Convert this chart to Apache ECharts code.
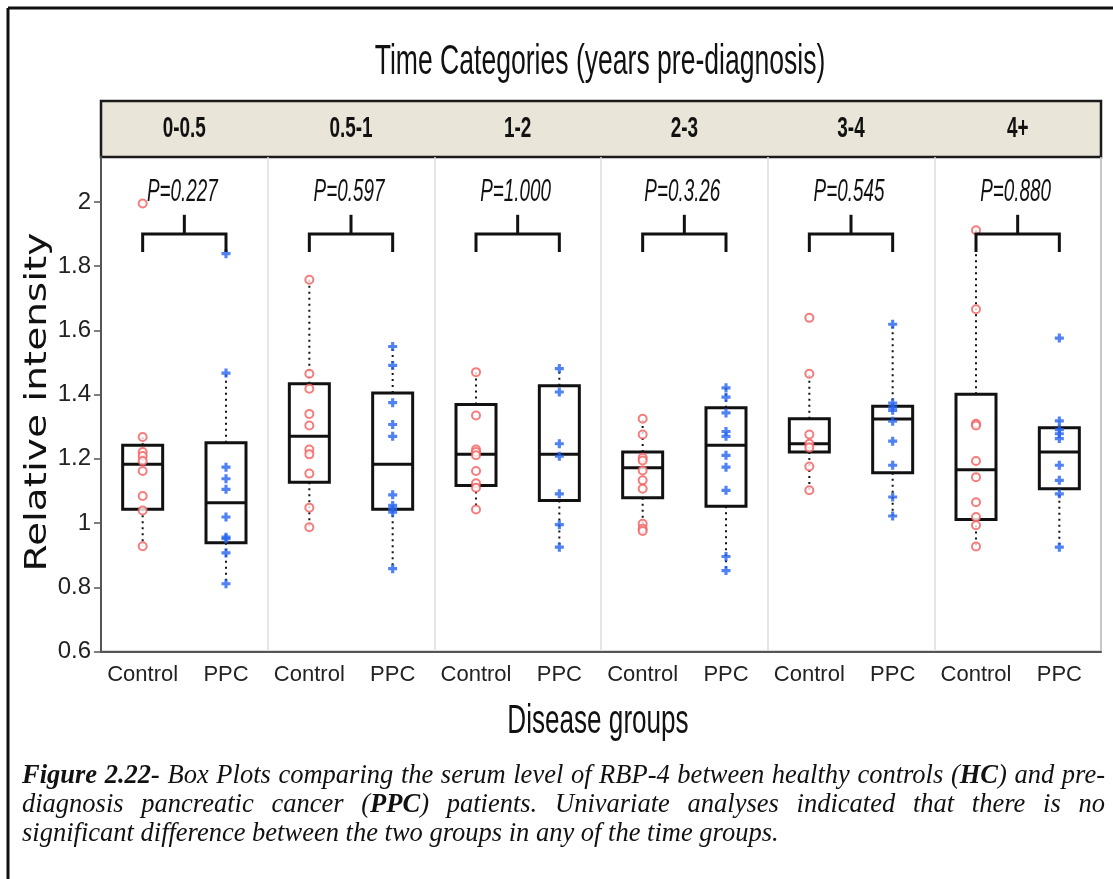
<!DOCTYPE html>
<html>
<head>
<meta charset="utf-8">
<script src="https://cdn.jsdelivr.net/npm/echarts@6/dist/echarts.min.js"></script>
<style>
  html, body { margin: 0; padding: 0; background: #fff; }
  #chart { width: 1113px; height: 879px; }
</style>
</head>
<body>
<div id="chart"></div>
<script>
// Time windows before diagnosis (one facet each) and the two groups inside a facet
const timeCategories = ['0-0.5', '0.5-1', '1-2', '2-3', '3-4', '4+'];
const diseaseGroups = ['Control', 'PPC'];
const yTickValues = [0.6, 0.8, 1.0, 1.2, 1.4, 1.6, 1.8, 2.0];
const pValueLabels = ['P=0.227', 'P=0.597', 'P=1.000', 'P=0.3.26', 'P=0.545', 'P=0.880'];

// Individual RBP-4 relative intensities, one list per time window
const controlPoints = [
  [1.995, 1.268, 1.221, 1.209, 1.193, 1.162, 1.084, 1.039, 0.928],
  [1.758, 1.465, 1.418, 1.340, 1.304, 1.229, 1.214, 1.154, 1.048, 0.987],
  [1.470, 1.335, 1.229, 1.221, 1.211, 1.162, 1.124, 1.110, 1.042],
  [1.325, 1.276, 1.203, 1.195, 1.164, 1.133, 1.107, 0.998, 0.982, 0.975],
  [1.639, 1.465, 1.276, 1.247, 1.235, 1.176, 1.102],
  [1.912, 1.666, 1.309, 1.304, 1.193, 1.143, 1.065, 1.019, 0.993, 0.927]
];
const ppcPoints = [
  [1.839, 1.467, 1.174, 1.138, 1.105, 1.019, 0.956, 0.951, 0.907, 0.811],
  [1.550, 1.491, 1.375, 1.307, 1.270, 1.088, 1.055, 1.044, 1.034, 0.858],
  [1.481, 1.408, 1.247, 1.208, 1.091, 0.995, 0.925],
  [1.421, 1.392, 1.343, 1.285, 1.270, 1.211, 1.174, 1.102, 0.896, 0.852],
  [1.619, 1.374, 1.361, 1.351, 1.317, 1.255, 1.180, 1.081, 1.022],
  [1.576, 1.318, 1.291, 1.278, 1.263, 1.180, 1.133, 1.091, 0.925]
];

// Box summaries: [lower whisker, Q1, median, Q3, upper whisker]
const controlBoxes = [
  [0.928, 1.043, 1.183, 1.242, 1.268],
  [0.987, 1.127, 1.270, 1.434, 1.758],
  [1.042, 1.117, 1.214, 1.369, 1.470],
  [0.982, 1.079, 1.172, 1.221, 1.325],
  [1.102, 1.221, 1.247, 1.325, 1.465],
  [0.927, 1.011, 1.166, 1.401, 1.912]
];
const ppcBoxes = [
  [0.811, 0.939, 1.063, 1.250, 1.467],
  [0.858, 1.043, 1.183, 1.405, 1.550],
  [0.925, 1.070, 1.214, 1.428, 1.481],
  [0.852, 1.052, 1.242, 1.359, 1.421],
  [1.022, 1.157, 1.324, 1.364, 1.619],
  [0.925, 1.107, 1.221, 1.297, 1.318]
];

// Comparison bracket levels (in data units)
const bracketLevel = 1.90;
const bracketLegEnd = 1.844;
const bracketStemTop = 1.96;
const pLabelLevel = 2.036;

const sans = '"Liberation Sans", Arial, sans-serif';
const ink = '#111';

const xCategories = timeCategories.flatMap(() => diseaseGroups);

const controlData = controlPoints.flatMap((vals, p) => vals.map(v => [2 * p, v]));
const ppcData = ppcPoints.flatMap((vals, p) => vals.map(v => [2 * p + 1, v]));
const boxData = controlBoxes.map((b, p) => [2 * p, ...b])
  .concat(ppcBoxes.map((b, p) => [2 * p + 1, ...b]));

function renderBox(params, api) {
  const x = api.value(0);
  const lo = api.coord([x, api.value(1)]);
  const q1 = api.coord([x, api.value(2)]);
  const md = api.coord([x, api.value(3)]);
  const q3 = api.coord([x, api.value(4)]);
  const hi = api.coord([x, api.value(5)]);
  const bw = api.size([1, 0])[0] * 0.48;
  const cx = lo[0];
  const dotted = { stroke: ink, lineWidth: 2, lineDash: [2, 4] };
  return {
    type: 'group',
    children: [
      { type: 'line', shape: { x1: cx, y1: q1[1], x2: cx, y2: lo[1] }, style: dotted },
      { type: 'line', shape: { x1: cx, y1: q3[1], x2: cx, y2: hi[1] }, style: dotted },
      { type: 'rect', shape: { x: cx - bw / 2, y: q3[1], width: bw, height: q1[1] - q3[1] },
        style: { fill: 'transparent', stroke: ink, lineWidth: 3 } },
      { type: 'line', shape: { x1: cx - bw / 2, y1: md[1], x2: cx + bw / 2, y2: md[1] },
        style: { stroke: ink, lineWidth: 3 } }
    ]
  };
}

function renderBracket(params, api) {
  const p = params.dataIndex;
  const left = api.coord([2 * p, bracketLevel]);
  const right = api.coord([2 * p + 1, bracketLevel]);
  const legY = api.coord([2 * p, bracketLegEnd])[1];
  const stemY = api.coord([2 * p, bracketStemTop])[1];
  const labelY = api.coord([2 * p, pLabelLevel])[1];
  const mid = (left[0] + right[0]) / 2;
  return {
    type: 'group',
    children: [
      { type: 'polyline',
        shape: { points: [[left[0], legY], [left[0], left[1]], [right[0], right[1]], [right[0], legY]] },
        style: { stroke: ink, lineWidth: 3, fill: null } },
      { type: 'line', shape: { x1: mid, y1: left[1], x2: mid, y2: stemY },
        style: { stroke: ink, lineWidth: 3 } },
      { type: 'text', x: mid - 2, y: labelY + 2, scaleX: 0.82, scaleY: 1.4,
        style: { text: pValueLabels[p], fontFamily: sans, fontStyle: 'italic', fontSize: 23,
                 fill: ink, align: 'center', verticalAlign: 'middle' } }
    ]
  };
}

function renderStripLabel(params, api) {
  const c = api.coord([api.value(0), 0.5]);
  return {
    type: 'text', x: c[0], y: c[1], scaleX: 0.86, scaleY: 1.3,
    style: { text: timeCategories[params.dataIndex], fontFamily: sans, fontWeight: 'bold',
             fontSize: 22, fill: ink, align: 'center', verticalAlign: 'middle' }
  };
}

// Caption: italic serif, first two lines justified to the full width
const captionLines = [
  [[{ t: 'Figure', b: true }], [{ t: '2.22-', b: true }], [{ t: 'Box' }], [{ t: 'Plots' }], [{ t: 'comparing' }],
   [{ t: 'the' }], [{ t: 'serum' }], [{ t: 'level' }], [{ t: 'of' }], [{ t: 'RBP-4' }], [{ t: 'between' }],
   [{ t: 'healthy' }], [{ t: 'controls' }], [{ t: '(' }, { t: 'HC', b: true }, { t: ')' }], [{ t: 'and' }], [{ t: 'pre-' }]],
  [[{ t: 'diagnosis' }], [{ t: 'pancreatic' }], [{ t: 'cancer' }], [{ t: '(' }, { t: 'PPC', b: true }, { t: ')' }],
   [{ t: 'patients.' }], [{ t: 'Univariate' }], [{ t: 'analyses' }], [{ t: 'indicated' }], [{ t: 'that' }],
   [{ t: 'there' }], [{ t: 'is' }], [{ t: 'no' }]],
  [[{ t: 'significant' }], [{ t: 'difference' }], [{ t: 'between' }], [{ t: 'the' }], [{ t: 'two' }],
   [{ t: 'groups' }], [{ t: 'in' }], [{ t: 'any' }], [{ t: 'of' }], [{ t: 'the' }], [{ t: 'time' }], [{ t: 'groups.' }]]
];
const captionFamily = '"Liberation Serif", "Times New Roman", serif';
const captionSize = 26.5;
const captionLeft = 22;
const captionRight = 1105;
const captionLineY = [776, 805, 834];

function buildCaption() {
  const ctx = document.createElement('canvas').getContext('2d');
  const widthOf = (t, b) => {
    ctx.font = `italic ${b ? 'bold ' : ''}${captionSize}px ${captionFamily}`;
    return ctx.measureText(t).width;
  };
  const out = [];
  captionLines.forEach((words, li) => {
    const wordWidths = words.map(w => w.reduce((s, r) => s + widthOf(r.t, r.b), 0));
    const total = wordWidths.reduce((a, b) => a + b, 0);
    const justify = li < captionLines.length - 1;
    const gap = justify ? (captionRight - captionLeft - total) / (words.length - 1) : widthOf(' ', false);
    let x = captionLeft;
    words.forEach((w, wi) => {
      let rx = x;
      w.forEach(r => {
        out.push({
          type: 'text', x: rx, y: captionLineY[li], silent: true,
          style: { text: r.t, fontFamily: captionFamily, fontStyle: 'italic',
                   fontWeight: r.b ? 'bold' : 'normal', fontSize: captionSize, fill: ink,
                   align: 'left', verticalAlign: 'middle' }
        });
        rx += widthOf(r.t, r.b);
      });
      x += wordWidths[wi] + gap;
    });
  });
  return out;
}

const chart = echarts.init(document.getElementById('chart'), null, { renderer: 'canvas' });

chart.setOption({
  backgroundColor: '#fff',
  animation: false,
  grid: [
    { left: 101, right: 12, top: 157, bottom: 227.5, show: true, backgroundColor: '#fff',
      borderColor: '#666', borderWidth: 1.5 },
    { left: 101, right: 12, top: 101, height: 56, show: true, backgroundColor: '#e9e5d8',
      borderColor: '#1a1a1a', borderWidth: 2.5 }
  ],
  xAxis: [
    { type: 'category', gridIndex: 0, data: xCategories,
      axisLine: { show: true, lineStyle: { color: '#555', width: 2 } },
      axisTick: { show: false },
      axisLabel: { fontFamily: sans, fontSize: 22, color: '#222', margin: 12, interval: 0 },
      splitLine: { show: false } },
    { type: 'category', gridIndex: 1, data: timeCategories, show: false },
    { type: 'category', gridIndex: 0, data: timeCategories, position: 'bottom',
      axisLine: { show: false }, axisTick: { show: false }, axisLabel: { show: false },
      splitLine: { show: true, lineStyle: { color: '#dcdcdc', width: 1.5 } } }
  ],
  yAxis: [
    { type: 'value', gridIndex: 0, min: 0.6, max: 2.14, interval: 0.2,
      axisLine: { show: true, lineStyle: { color: '#555', width: 2 } },
      axisTick: { show: true, length: 7, lineStyle: { color: '#555', width: 1.5 }, customValues: yTickValues },
      axisLabel: { fontFamily: sans, fontSize: 24, color: '#222', margin: 10, customValues: yTickValues,
                   formatter: v => String(+v.toFixed(1)) },
      splitLine: { show: false } },
    { type: 'value', gridIndex: 1, min: 0, max: 1, show: false }
  ],
  series: [
    { name: 'box', type: 'custom', xAxisIndex: 0, yAxisIndex: 0, z: 2,
      renderItem: renderBox, encode: { x: 0, y: [1, 2, 3, 4, 5] }, data: boxData },
    { name: 'Control', type: 'scatter', xAxisIndex: 0, yAxisIndex: 0, z: 3,
      symbol: 'emptyCircle', symbolSize: 8,
      itemStyle: { color: '#f25c5c', borderWidth: 1.5 }, data: controlData },
    { name: 'PPC', type: 'scatter', xAxisIndex: 0, yAxisIndex: 0, z: 3,
      symbol: 'path://M2.6,0H5.4V2.6H8V5.4H5.4V8H2.6V5.4H0V2.6H2.6Z', symbolSize: 9,
      itemStyle: { color: '#2463f0' }, data: ppcData },
    { name: 'comparison', type: 'custom', xAxisIndex: 0, yAxisIndex: 0, z: 4, clip: false,
      renderItem: renderBracket, encode: { x: 0, y: 1 },
      data: pValueLabels.map((l, p) => [2 * p, bracketLevel]) },
    { name: 'strip', type: 'custom', xAxisIndex: 1, yAxisIndex: 1, z: 4,
      renderItem: renderStripLabel, encode: { x: 0, y: 1 },
      data: timeCategories.map((c, i) => [i, 0.5]) }
  ],
  graphic: {
    elements: [
      { type: 'line', shape: { x1: 8, y1: 8, x2: 1113, y2: 8 }, style: { stroke: ink, lineWidth: 3 }, silent: true },
      { type: 'line', shape: { x1: 8, y1: 8, x2: 8, y2: 879 }, style: { stroke: ink, lineWidth: 3 }, silent: true },
      { type: 'text', x: 600, y: 62, scaleX: 0.83, scaleY: 1.35, silent: true,
        style: { text: 'Time Categories (years pre-diagnosis)', fontFamily: sans, fontSize: 32,
                 fill: ink, align: 'center', verticalAlign: 'middle' } },
      { type: 'text', x: 598, y: 722, scaleX: 0.87, scaleY: 1.35, silent: true,
        style: { text: 'Disease groups', fontFamily: sans, fontSize: 30,
                 fill: ink, align: 'center', verticalAlign: 'middle' } },
      { type: 'text', x: 38, y: 402, rotation: Math.PI / 2, scaleX: 1.3, silent: true,
        style: { text: 'Relative intensity', fontFamily: '"DejaVu Sans", sans-serif', fontSize: 30,
                 fill: ink, align: 'center', verticalAlign: 'middle' } },
      ...buildCaption()
    ]
  }
});
</script>
</body>
</html>
